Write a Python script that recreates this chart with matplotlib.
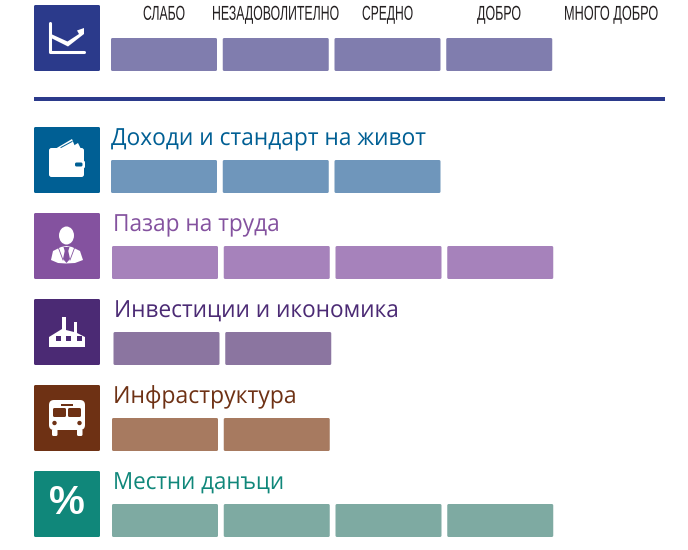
import matplotlib
matplotlib.use("Agg")
import matplotlib.pyplot as plt
from matplotlib.patches import FancyBboxPatch, Polygon, Circle, Ellipse, Rectangle
from matplotlib.patheffects import AbstractPathEffect
from matplotlib.text import Text
from matplotlib.transforms import Affine2D

rating_labels = ["СЛАБО", "НЕЗАДОВОЛИТЕЛНО", "СРЕДНО", "ДОБРО", "МНОГО ДОБРО"]
row_titles = ["Доходи и стандарт на живот", "Пазар на труда", "Инвестиции и икономика",
              "Инфраструктура", "Местни данъци"]
overall_score = 4
row_scores = [3, 4, 2, 2, 4]

NAVY = "#2b3a8b"
icon_colors = ["#005f94", "#84529f", "#4b2a74", "#6e3114", "#10877a"]
bar_colors = ["#6f96bb", "#a682bb", "#8b75a0", "#a77a60", "#7eaaa2"]
icon_tops = [127, 213, 299, 385, 471]
bar_lefts = [111, 112, 113.5, 112, 112]
title_lefts = [111, 113, 114, 113, 113]
title_widths = [315, 167, 285, 184, 171]
label_centers = [164, 275.5, 387.5, 499, 611]
label_widths = [42, 127, 51, 44, 94]

fig = plt.figure(figsize=(6.88, 5.5), dpi=100, facecolor="white")
ax = fig.add_axes([0, 0, 1, 1])
ax.set_xlim(0, 688)
ax.set_ylim(550, 0)
ax.axis("off")


class Scale(AbstractPathEffect):
    """Scale a text's outlines about a pivot, in display pixels."""

    def __init__(self, px, py, sx, sy):
        super().__init__()
        self.px, self.py, self.sx, self.sy = px, py, sx, sy

    def draw_path(self, renderer, gc, tpath, affine, rgbFace=None):
        aff = affine + (Affine2D().translate(-self.px, -self.py)
                        .scale(self.sx, self.sy).translate(self.px, self.py))
        renderer.draw_path(gc, tpath, aff, rgbFace)


class FitText(Text):
    """Real text, fitted horizontally to a target pixel width and stretched in height."""

    def __init__(self, x, y, s, width, sy=1.0, **kw):
        super().__init__(x, y, s, **kw)
        self.target = width
        self.sy = sy
        self.ready = False

    def draw(self, renderer):
        if not self.ready:
            bb = super().get_window_extent(renderer)
            px, py = self.axes.transData.transform(self.get_position())
            self.set_path_effects([Scale(px, py, self.target / bb.width, self.sy)])
            self.ready = True
        super().draw(renderer)


def fit_text(x, y, s, width, **kw):
    t = FitText(x, y, s, width, **kw)
    ax.add_artist(t)
    return t


def rbox(x, y, w, h, color, r=1.5, **kw):
    ax.add_patch(FancyBboxPatch((x + r, y + r), w - 2 * r, h - 2 * r,
                                boxstyle=f"round,pad={r},rounding_size={r}",
                                fc=color, ec="none", **kw))


def blocks(left, bottom, n, color):
    for i in range(n):
        rbox(left + i * 111.75, bottom - 33, 106, 33, color)


def poly(x0, y0, pts, color="white", **kw):
    ax.add_patch(Polygon([(x0 + a, y0 + b) for a, b in pts], closed=True, fc=color, ec="none", **kw))


def icon_chart(x, y):
    ax.plot([x + 16, x + 16, x + 50], [y + 18, y + 47, y + 47], color="white", lw=2.2,
            solid_capstyle="round", solid_joinstyle="round")
    poly(x, y, [(17, 29), (33.5, 36.5), (45, 29), (43, 25.5), (50, 23), (50, 29), (34, 41.5), (17, 33)])


def icon_wallet(x, y, c):
    poly(x, y, [(21, 22), (38, 12), (42, 22)])
    poly(x, y, [(34, 22), (44, 16), (47, 22)])
    ax.plot([x + 27, x + 38], [y + 20.5, y + 14.5], color=c, lw=0.7)
    rbox(x + 15, y + 21, 35, 29, "white", r=2.5)
    rbox(x + 39, y + 33.5, 12, 8, "white", r=2)
    rbox(x + 41, y + 35.5, 7.5, 4, c, r=1.5)


def icon_person(x, y, c):
    ax.add_patch(Ellipse((x + 32.5, y + 22.5), 15, 18, fc="white", ec="none"))
    poly(x, y, [(17, 47), (19, 38), (27, 34), (32.5, 33), (38, 34), (46, 38), (49, 47),
                (41, 50), (32, 50.5), (24, 50)])
    poly(x, y, [(29.5, 34), (35.5, 34), (34.3, 38), (36, 46), (32.5, 50), (29, 46), (30.7, 38)], color=c)
    ax.plot([x + 24.5, x + 29], [y + 35, y + 47], color=c, lw=0.6)
    ax.plot([x + 40.5, x + 36], [y + 35, y + 47], color=c, lw=0.6)


def icon_factory(x, y, c):
    poly(x, y, [(15, 48), (15, 38), (28, 30), (28, 18), (32, 18), (32, 31), (40, 33), (40, 23),
                (43, 23), (43, 34), (51, 38), (51, 48)])
    for wx in (22, 32, 43):
        ax.add_patch(Rectangle((x + wx, y + 37), 4.5, 4.5, fc=c, ec="none"))


def icon_bus(x, y, c):
    rbox(x + 15, y + 15, 36, 30, "white", r=5)
    rbox(x + 18, y + 44, 5.5, 7, "white", r=1.5)
    rbox(x + 43, y + 44, 5.5, 7, "white", r=1.5)
    rbox(x + 19, y + 23, 13, 9, c, r=1.5)
    rbox(x + 34, y + 23, 13, 9, c, r=1.5)
    ax.add_patch(Rectangle((x + 27, y + 19), 12, 2, fc=c, ec="none"))
    ax.add_patch(Circle((x + 20.5, y + 38), 2.2, fc=c, ec="none"))
    ax.add_patch(Circle((x + 45.5, y + 38), 2.2, fc=c, ec="none"))


def icon_percent(x, y):
    ax.text(x + 33, y + 32.5, "%", color="white", fontsize=29, fontweight="bold",
            family="Liberation Sans", ha="center", va="center")


# Header
rbox(34, 5, 66, 66, NAVY)
icon_chart(34, 5)
for cx, w, lab in zip(label_centers, label_widths, rating_labels):
    fit_text(cx, 14, lab, w, sy=1.45, family="Liberation Sans", fontsize=10,
             color="#231f20", ha="center", va="center")
blocks(111, 71, overall_score, "#807dae")
ax.add_patch(Rectangle((34, 97), 631, 4, fc=NAVY, ec="none"))

# Rows
icon_funcs = [icon_wallet, icon_person, icon_factory, icon_bus, None]
for i, title in enumerate(row_titles):
    top = icon_tops[i]
    c = icon_colors[i]
    rbox(34, top, 66, 66, c)
    if i == 4:
        icon_percent(34, top)
    else:
        icon_funcs[i](34, top, c)
    fit_text(title_lefts[i], top + 12, title, title_widths[i], family="Open Sans", fontsize=17,
             color=c, ha="left", va="center")
    blocks(bar_lefts[i], top + 66, row_scores[i], bar_colors[i])

fig.savefig("out.png", dpi=100, facecolor="white")
